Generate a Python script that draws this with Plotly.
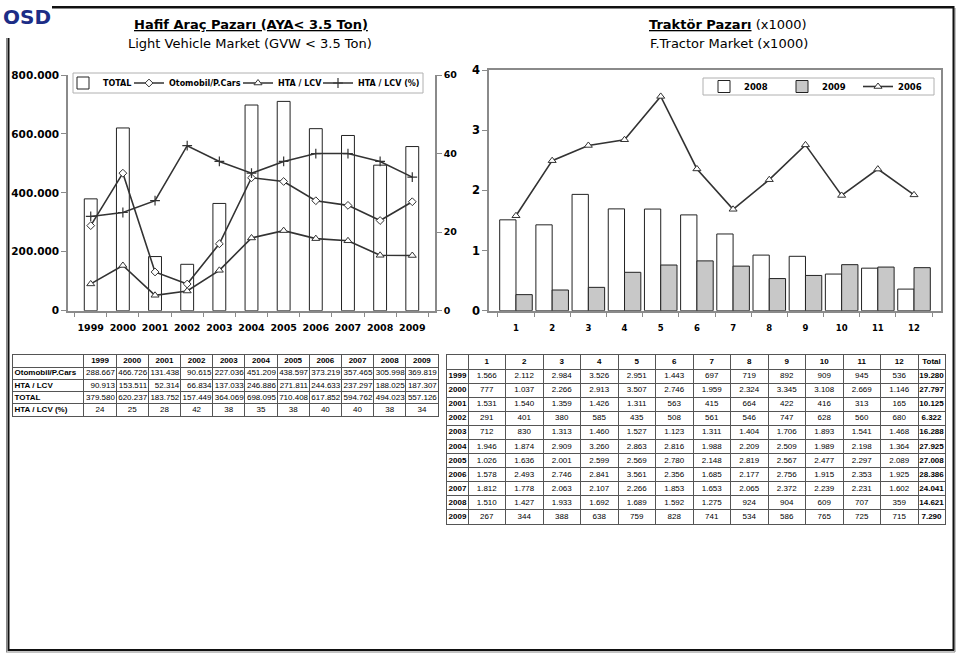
import plotly.graph_objects as go

W, H = 959, 656


def X(px):
    return px / W


def Y(py):
    return 1 - py / H


# ---------------- Light vehicle market data ----------------
years = ["1999", "2000", "2001", "2002", "2003", "2004", "2005", "2006", "2007", "2008", "2009"]
total = [379580, 620237, 183752, 157449, 364069, 698095, 710408, 617852, 594762, 494023, 557126]
cars = [288667, 466726, 131438, 90615, 227036, 451209, 438597, 373219, 357465, 305998, 369819]
lcv = [90913, 153511, 52314, 66834, 137033, 246886, 271811, 244633, 237297, 188025, 187307]
lcv_pct = [24, 25, 28, 42, 38, 35, 38, 40, 40, 38, 34]

left_y_ticks = [0, 200000, 400000, 600000, 800000]
left_y_labels = ["0", "200.000", "400.000", "600.000", "800.000"]
pct_ticks = [0, 20, 40, 60]
pct_labels = ["0", "20", "40", "60"]

# ---------------- Tractor market data (units) ----------------
months = ["1", "2", "3", "4", "5", "6", "7", "8", "9", "10", "11", "12"]
t1999 = [1566, 2112, 2984, 3526, 2951, 1443, 697, 719, 892, 909, 945, 536]
t2000 = [777, 1037, 2266, 2913, 3507, 2746, 1959, 2324, 3345, 3108, 2669, 1146]
t2001 = [1531, 1540, 1359, 1426, 1311, 563, 415, 664, 422, 416, 313, 165]
t2002 = [291, 401, 380, 585, 435, 508, 561, 546, 747, 628, 560, 680]
t2003 = [712, 830, 1313, 1460, 1527, 1123, 1311, 1404, 1706, 1893, 1541, 1468]
t2004 = [1946, 1874, 2909, 3260, 2863, 2816, 1988, 2209, 2509, 1989, 2198, 1364]
t2005 = [1026, 1636, 2001, 2599, 2569, 2780, 2148, 2819, 2567, 2477, 2297, 2089]
t2006 = [1578, 2493, 2746, 2841, 3561, 2356, 1685, 2177, 2756, 1915, 2353, 1925]
t2007 = [1812, 1778, 2063, 2107, 2266, 1853, 1653, 2065, 2372, 2239, 2231, 1602]
t2008 = [1510, 1427, 1933, 1692, 1689, 1592, 1275, 924, 904, 609, 707, 359]
t2009 = [267, 344, 388, 638, 759, 828, 741, 534, 586, 765, 725, 715]
tractor_totals = [19280, 27797, 10125, 6322, 16288, 27925, 27008, 28386, 24041, 14621, 7290]
tractor_years = years
tractor_rows = [t1999, t2000, t2001, t2002, t2003, t2004, t2005, t2006, t2007, t2008, t2009]

tr_ticks = [0, 1000, 2000, 3000, 4000]
tr_labels = ["0", "1", "2", "3", "4"]

left_row_labels = ["Otomobil/P.Cars", "HTA / LCV", "TOTAL", "HTA / LCV (%)"]
left_row_series = [cars, lcv, total, lcv_pct]


def fmt(v):
    return f"{v:,}".replace(",", ".")


# ---------------- styles ----------------
AX = "#8a8a8a"
LINE = "#333333"
GRID = "#555555"
BOLD = dict(family="DejaVu Sans", color="black", weight="bold")
TFONT = "Liberation Sans"

fig = go.Figure()

# ---------------- left chart traces ----------------
fig.add_trace(go.Bar(x=years, y=total, name="TOTAL", width=0.4,
                     marker=dict(color="white", line=dict(color="#222", width=1)),
                     xaxis="x", yaxis="y", legend="legend", legendwidth=21))
fig.add_trace(go.Scatter(x=years, y=cars, name="Otomobil/P.Cars", mode="lines+markers",
                         line=dict(color=LINE, width=1.6),
                         marker=dict(symbol="diamond", size=6, color="white",
                                     line=dict(color=LINE, width=1)),
                         xaxis="x", yaxis="y", legend="legend", legendwidth=64))
fig.add_trace(go.Scatter(x=years, y=lcv, name="HTA / LCV", mode="lines+markers",
                         line=dict(color=LINE, width=1.6),
                         marker=dict(symbol="triangle-up", size=7, color="white",
                                     line=dict(color=LINE, width=1)),
                         xaxis="x", yaxis="y", legend="legend", legendwidth=35))
fig.add_trace(go.Scatter(x=years, y=lcv_pct, name="HTA / LCV (%)", mode="lines+markers",
                         line=dict(color=LINE, width=1.6),
                         marker=dict(symbol="cross-thin", size=7, color=LINE,
                                     line=dict(color=LINE, width=1.2)),
                         xaxis="x", yaxis="y2", legend="legend"))

# ---------------- right chart traces ----------------
fig.add_trace(go.Bar(x=months, y=t2008, name="2008",
                     marker=dict(color="white", line=dict(color="#222", width=1)),
                     xaxis="x2", yaxis="y3", legend="legend2", legendwidth=33))
fig.add_trace(go.Bar(x=months, y=t2009, name="2009",
                     marker=dict(color="#c8c8c8", line=dict(color="#222", width=1)),
                     xaxis="x2", yaxis="y3", legend="legend2", legendwidth=31))
fig.add_trace(go.Scatter(x=months, y=t2006, name="2006", mode="lines+markers",
                         line=dict(color=LINE, width=1.6),
                         marker=dict(symbol="triangle-up", size=7, color="white",
                                     line=dict(color=LINE, width=1)),
                         xaxis="x2", yaxis="y3", legend="legend2"))

# ---------------- left table (drawn on its own axes) ----------------
colw_left = [71] + [32.2] * 11
edges_l = [0]
for w in colw_left:
    edges_l.append(edges_l[-1] + w)

lx, ly, lt, lp = [], [], [], []
for j, yr in enumerate(years):
    lx.append((edges_l[j + 1] + edges_l[j + 2]) / 2)
    ly.append(0.5)
    lt.append(f"<b>{yr}</b>")
    lp.append("middle center")
for i, (lab, ser) in enumerate(zip(left_row_labels, left_row_series)):
    r = i + 1.5
    lx.append(edges_l[0] + 1.5)
    ly.append(r)
    lt.append(f"<b>{lab}</b>")
    lp.append("middle right")
    for j, v in enumerate(ser):
        if i < 3:
            lx.append(edges_l[j + 2] - 1.2)
            lt.append(fmt(v))
            lp.append("middle left")
        else:
            lx.append((edges_l[j + 1] + edges_l[j + 2]) / 2)
            lt.append(str(v))
            lp.append("middle center")
        ly.append(r)

fig.add_trace(go.Scatter(x=lx, y=ly, text=lt, mode="text", textposition=lp,
                         textfont=dict(family=TFONT, size=8, color="black"),
                         cliponaxis=False, showlegend=False, hoverinfo="skip",
                         xaxis="x3", yaxis="y4"))

# ---------------- right table ----------------
colw_right = [21] + [37.5] * 12 + [27]
edges_r = [0]
for w in colw_right:
    edges_r.append(edges_r[-1] + w)

rx, ry, rt = [], [], []
for j, m in enumerate(months + ["Total"]):
    rx.append((edges_r[j + 1] + edges_r[j + 2]) / 2)
    ry.append(0.5)
    rt.append(f"<b>{m}</b>")
for i, (yr, row, tot) in enumerate(zip(tractor_years, tractor_rows, tractor_totals)):
    r = i + 1.5
    rx.append((edges_r[0] + edges_r[1]) / 2)
    ry.append(r)
    rt.append(f"<b>{yr}</b>")
    for j, v in enumerate(row):
        rx.append((edges_r[j + 1] + edges_r[j + 2]) / 2)
        ry.append(r)
        rt.append(fmt(v))
    rx.append((edges_r[13] + edges_r[14]) / 2)
    ry.append(r)
    rt.append(f"<b>{fmt(tot)}</b>")

fig.add_trace(go.Scatter(x=rx, y=ry, text=rt, mode="text", textposition="middle center",
                         textfont=dict(family=TFONT, size=8, color="black"),
                         cliponaxis=False, showlegend=False, hoverinfo="skip",
                         xaxis="x4", yaxis="y5"))


def table_axis(domain, edges, anchor, reverse=False):
    rng = [edges[-1], edges[0]] if reverse else [edges[0], edges[-1]]
    return dict(domain=domain, range=rng, tickvals=edges, showgrid=True, gridcolor=GRID,
                gridwidth=1, showline=True, mirror=True, linecolor=GRID, linewidth=1,
                showticklabels=False, ticks="", zeroline=False, anchor=anchor,
                fixedrange=True, automargin=False)


fig.update_layout(
    width=W, height=H, margin=dict(l=0, r=0, t=0, b=0, pad=0, autoexpand=False),
    paper_bgcolor="white", plot_bgcolor="rgba(0,0,0,0)",
    barmode="group", bargap=0.1, bargroupgap=0, hovermode=False,
    font=dict(family="DejaVu Sans", color="black"),
    xaxis=dict(domain=[X(68), X(435)], type="category", anchor="y", automargin=False,
               showline=True, linecolor=AX, linewidth=1.5, tickangle=0,
               ticks="outside", tickson="boundaries", ticklen=5, tickcolor=AX,
               ticklabelstandoff=7,
               tickfont=dict(size=9.5, **BOLD), showgrid=False),
    yaxis=dict(domain=[Y(310.7), Y(75)], range=[0, 800000], anchor="x", automargin=False,
               tickvals=left_y_ticks, ticktext=left_y_labels,
               showline=True, linecolor=AX, linewidth=1.5,
               ticks="outside", ticklen=5, tickcolor=AX,
               tickfont=dict(size=10.5, **BOLD), showgrid=False, zeroline=False),
    yaxis2=dict(overlaying="y", side="right", anchor="x", range=[0, 60], automargin=False,
                tickvals=pct_ticks, ticktext=pct_labels,
                showline=True, linecolor=AX, linewidth=1.5,
                ticks="outside", ticklen=5, tickcolor=AX,
                tickfont=dict(size=9.5, **BOLD), showgrid=False, zeroline=False),
    xaxis2=dict(domain=[X(489), X(941)], type="category", anchor="y3", automargin=False,
                showline=True, mirror=True, linecolor=AX, linewidth=1.5, tickangle=0,
                ticks="outside", tickson="boundaries", ticklen=5, tickcolor=AX,
                ticklabelstandoff=8,
                tickfont=dict(size=8.5, **BOLD), showgrid=False),
    yaxis3=dict(domain=[Y(310.7), Y(70)], range=[0, 4000], anchor="x2", automargin=False,
                tickvals=tr_ticks, ticktext=tr_labels,
                showline=True, mirror=True, linecolor=AX, linewidth=1.5,
                ticks="outside", ticklen=5, tickcolor=AX,
                tickfont=dict(size=11.5, **BOLD), showgrid=False, zeroline=False),
    xaxis3=table_axis([X(13), X(438)], edges_l, "y4"),
    yaxis4=table_axis([Y(416), Y(355)], list(range(6)), "x3", reverse=True),
    xaxis4=table_axis([X(447), X(945)], edges_r, "y5"),
    yaxis5=table_axis([Y(524), Y(355)], list(range(13)), "x4", reverse=True),
    legend=dict(orientation="h", x=X(63), xanchor="left", y=Y(83), yanchor="middle",
                bgcolor="rgba(0,0,0,0)", borderwidth=0,
                font=dict(size=8, **BOLD), traceorder="normal"),
    legend2=dict(orientation="h", x=X(704), xanchor="left", y=Y(86.5), yanchor="middle",
                 bgcolor="rgba(0,0,0,0)", borderwidth=0,
                 font=dict(size=8.5, **BOLD), traceorder="normal"),
)

shapes = [
    # legend boxes
    dict(type="rect", xref="paper", yref="paper", x0=X(73), x1=X(423), y0=Y(93), y1=Y(73),
         line=dict(color="#b0b0b0", width=1), fillcolor="white", layer="below"),
    dict(type="rect", xref="paper", yref="paper", x0=X(703), x1=X(934), y0=Y(95), y1=Y(78),
         line=dict(color="#b0b0b0", width=1), fillcolor="white", layer="below"),
    # page frame (shadow then black)
    dict(type="line", xref="paper", yref="paper", x0=X(52), x1=X(954), y0=Y(8.5), y1=Y(8.5),
         line=dict(color="#888", width=1)),
    dict(type="line", xref="paper", yref="paper", x0=X(955), x1=X(955), y0=Y(8), y1=Y(652),
         line=dict(color="#888", width=1)),
    dict(type="line", xref="paper", yref="paper", x0=X(6), x1=X(955), y0=Y(652), y1=Y(652),
         line=dict(color="#888", width=1)),
    dict(type="line", xref="paper", yref="paper", x0=X(6.5), x1=X(6.5), y0=Y(38), y1=Y(652),
         line=dict(color="#888", width=1)),
    dict(type="line", xref="paper", yref="paper", x0=X(52), x1=X(954), y0=Y(7), y1=Y(7),
         line=dict(color="#111", width=2)),
    dict(type="line", xref="paper", yref="paper", x0=X(953.5), x1=X(953.5), y0=Y(6), y1=Y(650.5),
         line=dict(color="#111", width=2)),
    dict(type="line", xref="paper", yref="paper", x0=X(8), x1=X(954), y0=Y(650), y1=Y(650),
         line=dict(color="#111", width=2)),
    dict(type="line", xref="paper", yref="paper", x0=X(8.5), x1=X(8.5), y0=Y(38), y1=Y(651),
         line=dict(color="#111", width=2)),
]


def note(text, px, py, size, color="black"):
    return dict(text=text, x=X(px), y=Y(py), xref="paper", yref="paper", showarrow=False,
                xanchor="center", yanchor="middle",
                font=dict(family="DejaVu Sans", size=size, color=color))


annotations = [
    note("<b>OSD</b>", 27, 17, 20, "#1c2d86"),
    note("<b><u>Hafif Araç Pazarı (AYA&lt; 3.5 Ton)</u></b>", 251, 25, 13),
    note("Light Vehicle Market (GVW &lt; 3.5 Ton)", 250, 43, 13),
    note("<b><u>Traktör Pazarı</u></b> (x1000)", 728, 25, 13),
    note("F.Tractor Market (x1000)", 729, 43, 13),
]

fig.update_layout(shapes=shapes, annotations=annotations)

fig.write_html("out.html", config={"displayModeBar": False},
               post_script="document.body.style.margin='0px';")
